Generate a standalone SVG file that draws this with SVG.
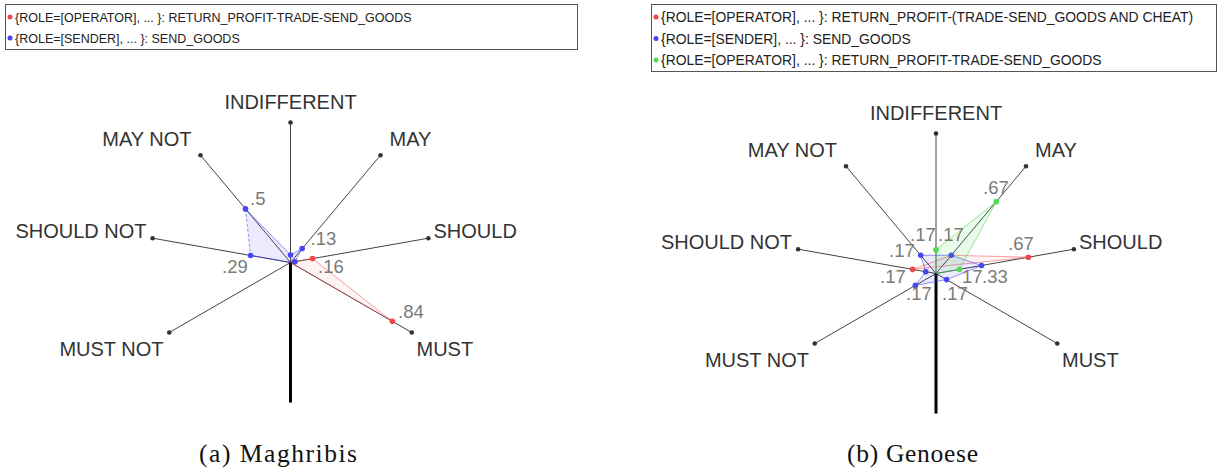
<svg xmlns="http://www.w3.org/2000/svg" width="1219" height="469" viewBox="0 0 1219 469">
<style>
  .bg{fill:#ffffff}
  .legbox{fill:#ffffff;stroke:#555;stroke-width:1}
  .legtxt{font-family:"Liberation Sans",Arial,sans-serif;font-size:12.5px;fill:#222}
  .legtxt2{font-family:"Liberation Sans",Arial,sans-serif;font-size:13.9px;fill:#222}
  .axis{stroke:#444;stroke-width:1;fill:none}
  .stem{stroke:#000;stroke-width:3;fill:none}
  .end{fill:#333}
  .lbl{font-family:"Liberation Sans",Arial,sans-serif;font-size:20px;fill:#333}
  .val{font-family:"Liberation Sans",Arial,sans-serif;font-size:18.5px;fill:#7a7a7a}
  .cap{font-family:"Liberation Serif","Times New Roman",serif;font-size:25.5px;fill:#111}
  .fb{fill:rgb(60,60,240);fill-opacity:0.1;stroke:none}
  .sb{stroke:rgb(60,60,240);stroke-opacity:0.7;stroke-width:0.8;fill:none}
  .fr{fill:rgb(240,60,60);fill-opacity:0.06;stroke:none}
  .sr{stroke:rgb(240,60,60);stroke-opacity:0.6;stroke-width:0.8;fill:none}
  .fg{fill:rgb(60,220,60);fill-opacity:0.1;stroke:none}
  .sg{stroke:rgb(60,220,60);stroke-opacity:0.7;stroke-width:0.8;fill:none}
  .pb{fill:rgb(70,70,240)}
  .pr{fill:rgb(240,70,70)}
  .pg{fill:rgb(80,220,80)}
</style>
<defs>
  <g id="axes">
    <line class="axis" x1="0" y1="0" x2="0" y2="-140"/>
    <line class="axis" x1="0" y1="0" x2="90" y2="-107.25"/>
    <line class="axis" x1="0" y1="0" x2="137.87" y2="-24.31"/>
    <line class="axis" x1="0" y1="0" x2="121.24" y2="70"/>
    <line class="axis" x1="0" y1="0" x2="-90" y2="-107.25"/>
    <line class="axis" x1="0" y1="0" x2="-137.87" y2="-24.31"/>
    <line class="axis" x1="0" y1="0" x2="-121.24" y2="70"/>
    <line class="stem" x1="0" y1="0" x2="0" y2="140"/>
    <circle class="end" cx="0" cy="-140" r="2.3"/>
    <circle class="end" cx="90" cy="-107.25" r="2.3"/>
    <circle class="end" cx="137.87" cy="-24.31" r="2.3"/>
    <circle class="end" cx="121.24" cy="70" r="2.3"/>
    <circle class="end" cx="-90" cy="-107.25" r="2.3"/>
    <circle class="end" cx="-137.87" cy="-24.31" r="2.3"/>
    <circle class="end" cx="-121.24" cy="70" r="2.3"/>
    <text class="lbl" x="0" y="-154" text-anchor="middle">INDIFFERENT</text>
    <text class="lbl" x="-99" y="-117" text-anchor="end">MAY NOT</text>
    <text class="lbl" x="99" y="-117">MAY</text>
    <text class="lbl" x="-144" y="-25" text-anchor="end">SHOULD NOT</text>
    <text class="lbl" x="143" y="-25">SHOULD</text>
    <text class="lbl" x="-127" y="93" text-anchor="end">MUST NOT</text>
    <text class="lbl" x="126" y="93">MUST</text>
  </g>
</defs>
<rect class="bg" x="0" y="0" width="1219" height="469"/>

<g id="legend-a">
  <rect class="legbox" x="5.5" y="4.5" width="572" height="45"/>
  <circle class="pr" cx="10" cy="17" r="2.5"/>
  <text class="legtxt" x="15" y="21.5">{ROLE=[OPERATOR], ... }: RETURN_PROFIT-TRADE-SEND_GOODS</text>
  <circle class="pb" cx="10" cy="38" r="2.5"/>
  <text class="legtxt" x="15" y="42.5">{ROLE=[SENDER], ... }: SEND_GOODS</text>
</g>

<g id="legend-b">
  <rect class="legbox" x="651.5" y="4.5" width="565" height="67"/>
  <circle class="pr" cx="656" cy="17" r="2.5"/>
  <text class="legtxt2" x="661" y="22">{ROLE=[OPERATOR], ... }: RETURN_PROFIT-(TRADE-SEND_GOODS AND CHEAT)</text>
  <circle class="pb" cx="656" cy="38.5" r="2.5"/>
  <text class="legtxt2" x="661" y="43.5">{ROLE=[SENDER], ... }: SEND_GOODS</text>
  <circle class="pg" cx="656" cy="60" r="2.5"/>
  <text class="legtxt2" x="661" y="65">{ROLE=[OPERATOR], ... }: RETURN_PROFIT-TRADE-SEND_GOODS</text>
</g>

<g id="chart-a" transform="translate(290.5,262.5)">
  <use href="#axes"/>
  <g id="series-a-red">
    <polygon class="fr" points="0,0 22.06,-3.89 101.84,58.8"/>
    <polyline class="sr" points="0,0 22.06,-3.89 101.84,58.8 0,0"/>
    <circle class="pr" cx="22.06" cy="-3.89" r="2.8"/>
    <circle class="pr" cx="101.84" cy="58.8" r="2.8"/>
  </g>
  <g id="series-a-blue">
    <polygon class="fb" points="-45,-53.6 0,-7.5 11.7,-13.94 4.4,-0.8 0,0 -39.98,-7.05"/>
    <polyline class="sb" points="-39.98,-7.05 0,0 4.4,-0.8 11.7,-13.94 0,-7.5 -45,-53.6"/>
    <line class="sb" x1="-45" y1="-53.6" x2="-39.98" y2="-7.05" stroke-dasharray="3,2"/>
    <circle class="pb" cx="-45" cy="-53.6" r="2.8"/>
    <circle class="pb" cx="-39.98" cy="-7.05" r="2.8"/>
    <circle class="pb" cx="0" cy="-7.5" r="2.8"/>
    <circle class="pb" cx="11.7" cy="-13.94" r="2.8"/>
    <circle class="pb" cx="4.4" cy="-0.8" r="2.8"/>
  </g>
  <text class="val" x="-40.5" y="-57.5">.5</text>
  <text class="val" x="-68.5" y="10.5">.29</text>
  <text class="val" x="20" y="-17.5">.13</text>
  <text class="val" x="27.5" y="10.5">.16</text>
  <text class="val" x="107.5" y="55.5">.84</text>
</g>

<g id="chart-b" transform="translate(936,273.5)">
  <use href="#axes"/>
  <g id="series-b-red">
    <polygon class="fr" points="-23.44,-4.13 15.3,-18.23 92.37,-16.29"/>
    <polyline class="sr" points="-23.44,-4.13 15.3,-18.23 92.37,-16.29 -23.44,-4.13"/>
    <circle class="pr" cx="-23.44" cy="-4.13" r="2.8"/>
    <circle class="pr" cx="92.37" cy="-16.29" r="2.8"/>
  </g>
  <g id="series-b-blue">
    <polygon class="fb" points="-15.3,-18.23 15.3,-18.23 45.5,-8.02 10.6,6.1 -20.6,11.9 -10.3,-1.8"/>
    <polyline class="sb" points="-15.3,-18.23 15.3,-18.23 45.5,-8.02 10.6,6.1 -20.6,11.9 -10.3,-1.8 -15.3,-18.23"/>
    <circle class="pb" cx="-15.3" cy="-18.23" r="2.8"/>
    <circle class="pb" cx="15.3" cy="-18.23" r="2.8"/>
    <circle class="pb" cx="45.5" cy="-8.02" r="2.8"/>
    <circle class="pb" cx="10.6" cy="6.1" r="2.8"/>
    <circle class="pb" cx="-20.6" cy="11.9" r="2.8"/>
    <circle class="pb" cx="-10.3" cy="-1.8" r="2.8"/>
  </g>
  <g id="series-b-green">
    <polygon class="fg" points="0,-23.8 60.29,-71.86 23.44,-4.13 0,0"/>
    <polyline class="sg" points="0,0 0,-23.8 60.29,-71.86 23.44,-4.13 0,0"/>
    <circle class="pg" cx="0" cy="-23.8" r="2.8"/>
    <circle class="pg" cx="60.29" cy="-71.86" r="2.8"/>
    <circle class="pg" cx="23.44" cy="-4.13" r="2.8"/>
  </g>
  <text class="val" x="47" y="-79.5">.67</text>
  <text class="val" x="-26" y="-32.5">.17</text>
  <text class="val" x="2" y="-32.5">.17</text>
  <text class="val" x="-47" y="-16.5">.17</text>
  <text class="val" x="-56" y="9.5">.17</text>
  <text class="val" x="-30" y="26.5">.17</text>
  <text class="val" x="6" y="26.5">.17</text>
  <text class="val" x="26" y="9.5">17</text>
  <text class="val" x="46" y="9.5">.33</text>
  <text class="val" x="72" y="-23.5">.67</text>
</g>

<g id="captions">
  <text class="cap" x="199" y="461.5" textLength="158" lengthAdjust="spacing">(a) Maghribis</text>
  <text class="cap" x="847" y="461.5" textLength="131" lengthAdjust="spacing">(b) Genoese</text>
</g>
</svg>
